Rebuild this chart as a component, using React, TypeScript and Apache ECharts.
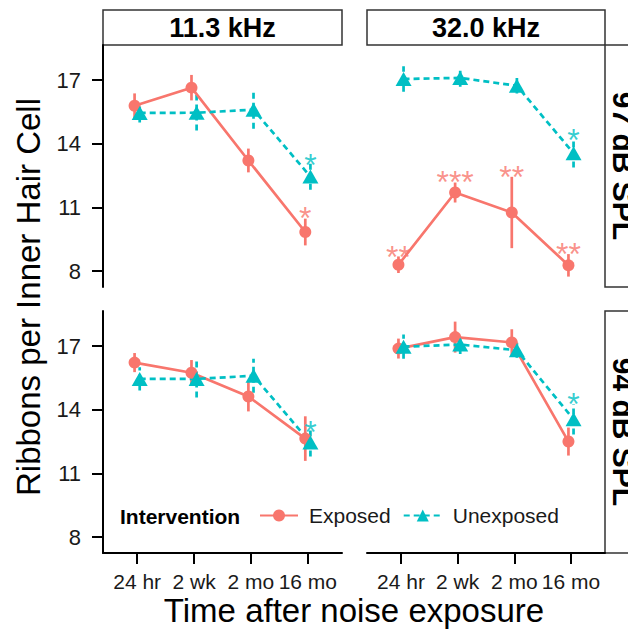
import React, { useEffect, useRef } from "react";
import * as echarts from "echarts";

// ---- Data ----
const timeLabels = ["24 hr", "2 wk", "2 mo", "16 mo"];
const freqLabels = ["11.3 kHz", "32.0 kHz"];
const levelLabels = ["97 dB SPL", "94 dB SPL"];
const yTicks = [8, 11, 14, 17];

// Panel order: [11.3/97, 32.0/97, 11.3/94, 32.0/94]
const exposedMean = [
  [15.79, 16.64, 13.21, 9.84],
  [8.3, 11.7, 10.76, 8.27],
  [16.22, 15.74, 14.62, 12.64],
  [16.88, 17.42, 17.17, 12.5],
];
const exposedSE = [
  [0.58, 0.6, 0.56, 0.63],
  [0.39, 0.47, 1.68, 0.53],
  [0.45, 0.6, 0.7, 1.05],
  [0.47, 0.73, 0.62, 0.66],
];
const unexposedMean = [
  [15.45, 15.46, 15.6, 12.45],
  [17.05, 17.1, 16.73, 13.55],
  [15.45, 15.45, 15.6, 12.45],
  [16.97, 17.07, 16.8, 13.55],
];
const unexposedSE = [
  [0.45, 0.84, 0.9, 0.62],
  [0.6, 0.42, 0.36, 0.67],
  [0.55, 0.87, 0.8, 0.65],
  [0.57, 0.45, 0.35, 0.72],
];
// significance marks: [timeIndex(1-based), y position, text]
const starsExposed = [
  [[4, 10.81, "*"]],
  [[1, 9.01, "**"], [2, 12.53, "***"], [3, 12.74, "**"], [4, 9.13, "**"]],
  [],
  [],
];
const starsUnexposed = [
  [[4, 13.32, "*"]],
  [[4, 14.49, "*"]],
  [[4, 13.27, "*"]],
  [[4, 14.61, "*"]],
];

// ---- Style ----
const RED = "#F8766D";
const TEAL = "#00BFC4";
const FONT = "'Liberation Sans', Arial, Helvetica, sans-serif";
const TXT = "#1a1a1a";
const DODGE = 0.045;
const DASH = [6, 4];

const grids = [
  { left: 103, top: 45, width: 239, height: 242 },
  { left: 367, top: 45, width: 238, height: 242 },
  { left: 103, top: 311, width: 239, height: 242 },
  { left: 367, top: 311, width: 238, height: 242 },
];

export default function App() {
  const ref = useRef<HTMLDivElement>(null);
  useEffect(() => {
    if (!ref.current) return;
    const chart = echarts.init(ref.current, null, { renderer: "svg" });

    const xAxes = grids.map((_, i) => {
      const bottom = i >= 2;
      return {
        type: "value",
        gridIndex: i,
        min: 0.4,
        max: 4.6,
        show: bottom,
        splitLine: { show: false },
        axisLine: { show: bottom, onZero: false, lineStyle: { color: "#000", width: 2 } },
        axisTick: {
          show: bottom,
          length: 11,
          lineStyle: { color: "#000", width: 2 },
          customValues: [1, 2, 3, 4],
        },
        axisLabel: {
          show: bottom,
          customValues: [1, 2, 3, 4],
          formatter: (v: number) => timeLabels[Math.round(v) - 1] ?? "",
          color: TXT,
          fontSize: 21,
          fontFamily: FONT,
          margin: 18,
        },
      };
    });
    const yAxes = grids.map((_, i) => {
      const left = i % 2 === 0;
      return {
        type: "value",
        gridIndex: i,
        min: 7.25,
        max: 18.65,
        show: left,
        splitLine: { show: false },
        axisLine: { show: left, onZero: false, lineStyle: { color: "#000", width: 2 } },
        axisTick: {
          show: left,
          length: 11,
          lineStyle: { color: "#000", width: 2 },
          customValues: yTicks,
        },
        axisLabel: {
          show: left,
          customValues: yTicks,
          color: TXT,
          fontSize: 22,
          fontFamily: FONT,
          margin: 22,
        },
      };
    });

    const series: any[] = [];
    const errBar = (name: string, i: number, mean: number[], se: number[], off: number, color: string, dash: any) => ({
      type: "custom",
      name,
      xAxisIndex: i,
      yAxisIndex: i,
      z: 2,
      data: mean.map((m, k) => [k + 1 + off, m - se[k], m + se[k]]),
      renderItem: (params: any, api: any) => {
        const x = api.value(0);
        const p1 = api.coord([x, api.value(1)]);
        const p2 = api.coord([x, api.value(2)]);
        return {
          type: "line",
          shape: { x1: p1[0], y1: p1[1], x2: p2[0], y2: p2[1] },
          style: { stroke: color, lineWidth: 2.7, lineDash: dash },
        };
      },
    });
    const starSeries = (name: string, i: number, stars: any[], off: number, color: string) => ({
      type: "scatter",
      name,
      xAxisIndex: i,
      yAxisIndex: i,
      symbolSize: 0,
      z: 5,
      data: stars.map((s: any) => [s[0] + off, s[1], s[2]]),
      label: {
        show: true,
        position: "inside",
        formatter: (p: any) => p.value[2],
        color,
        fontSize: 32,
        fontFamily: FONT,
        offset: [0, 7],
      },
    });

    for (let i = 0; i < 4; i++) {
      series.push(errBar("Exposed SE", i, exposedMean[i], exposedSE[i], -DODGE, RED, null));
      series.push(errBar("Unexposed SE", i, unexposedMean[i], unexposedSE[i], DODGE, TEAL, DASH));
      series.push({
        type: "line",
        name: "Exposed",
        xAxisIndex: i,
        yAxisIndex: i,
        z: 3,
        symbol: "circle",
        symbolSize: 12,
        data: exposedMean[i].map((m, k) => [k + 1 - DODGE, m]),
        lineStyle: { color: RED, width: 2.7, type: "solid" },
        itemStyle: { color: RED },
      });
      series.push({
        type: "line",
        name: "Unexposed",
        xAxisIndex: i,
        yAxisIndex: i,
        z: 3,
        symbol: "triangle",
        symbolSize: [16, 14],
        data: unexposedMean[i].map((m, k) => [k + 1 + DODGE, m]),
        lineStyle: { color: TEAL, width: 2.7, type: DASH },
        itemStyle: { color: TEAL },
      });
      series.push(starSeries("Exposed stars", i, starsExposed[i], -DODGE, RED));
      series.push(starSeries("Unexposed stars", i, starsUnexposed[i], DODGE, TEAL));
    }

    const stripTop = freqLabels.map((t, j) => {
      const g = grids[j];
      return [
        {
          type: "rect",
          shape: { x: g.left, y: 10, width: g.width, height: 35 },
          style: { fill: "#fff", stroke: "#333", lineWidth: 1.5 },
        },
        {
          type: "text",
          x: g.left + g.width / 2,
          y: 28,
          style: {
            text: t,
            fill: "#000",
            font: `bold 27px ${FONT}`,
            align: "center",
            verticalAlign: "middle",
          },
        },
      ];
    }).flat();
    const stripRight = levelLabels.map((t, r) => {
      const g = grids[r * 2 + 1];
      return [
        {
          type: "rect",
          shape: { x: 605, y: g.top, width: 40, height: g.height },
          style: { fill: "#fff", stroke: "#333", lineWidth: 1.5 },
        },
        {
          type: "text",
          x: 623,
          y: g.top + g.height / 2,
          rotation: -Math.PI / 2,
          style: {
            text: t,
            fill: "#000",
            font: `bold 30px ${FONT}`,
            align: "center",
            verticalAlign: "middle",
          },
        },
      ];
    }).flat();

    chart.setOption({
      animation: false,
      backgroundColor: "#fff",
      grid: grids.map((g) => ({ ...g, containLabel: false })),
      xAxis: xAxes,
      yAxis: yAxes,
      series,
      legend: {
        data: ["Exposed", "Unexposed"],
        left: 259,
        top: 505,
        padding: 0,
        itemWidth: 38,
        itemHeight: 15,
        itemGap: 12,
        selectedMode: false,
        textStyle: { color: TXT, fontSize: 21, fontFamily: FONT, padding: [0, 0, 0, 6] },
      },
      graphic: [
        ...stripTop,
        ...stripRight,
        {
          type: "text",
          x: 120,
          y: 516,
          style: {
            text: "Intervention",
            fill: "#000",
            font: `bold 21px ${FONT}`,
            align: "left",
            verticalAlign: "middle",
          },
        },
        {
          type: "text",
          x: 28,
          y: 297,
          rotation: Math.PI / 2,
          style: {
            text: "Ribbons per Inner Hair Cell",
            fill: "#000",
            font: `33px ${FONT}`,
            align: "center",
            verticalAlign: "middle",
          },
        },
        {
          type: "text",
          x: 354,
          y: 610,
          style: {
            text: "Time after noise exposure",
            fill: "#000",
            font: `33px ${FONT}`,
            align: "center",
            verticalAlign: "middle",
          },
        },
      ],
    });
    return () => chart.dispose();
  }, []);
  return (
    <div
      ref={ref}
      style={{ position: "fixed", left: 0, top: 0, width: 628, height: 632, background: "#fff" }}
    />
  );
}
